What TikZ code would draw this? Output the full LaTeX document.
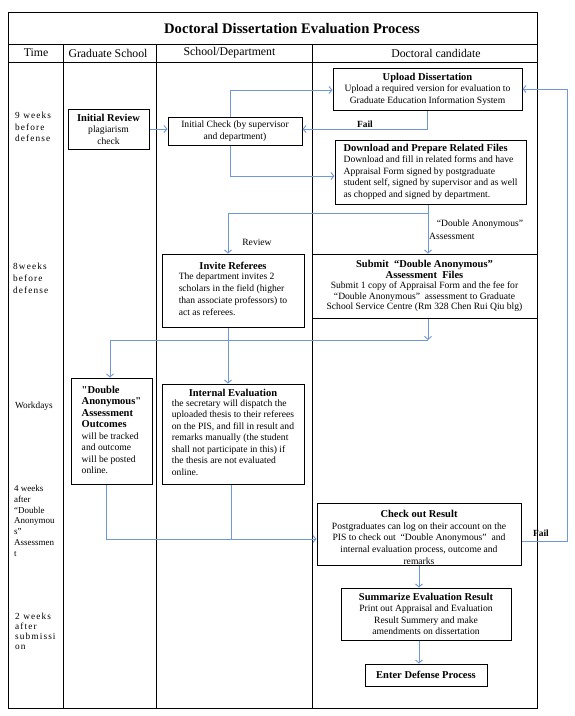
\documentclass[tikz,border=0pt]{standalone}
\usepackage{fontspec}
\setmainfont{Liberation Serif}
\newfontfamily\spacedfont[LetterSpace=12]{Liberation Serif}
\usetikzlibrary{arrows.meta}
\definecolor{lineblue}{RGB}{110,152,218}
\newcommand{\bodyfont}{\fontsize{9.6}{11.5}\selectfont}
\newcommand{\bt}[1]{{\fontsize{10.5}{11.5}\selectfont\bfseries #1}}
\begin{document}
\begin{tikzpicture}[x=1pt,y=-1pt,
  frame/.style={draw=black,line width=1pt},
  box/.style={draw=black,line width=1pt,inner sep=1pt,align=center,font=\bodyfont},
  conn/.style={draw=lineblue,line width=0.9pt},
  arr/.style={conn,-{Straight Barb[length=3pt,width=7pt]}},
  lbl/.style={font=\bodyfont,inner sep=0pt},
  hdr/.style={font=\fontsize{11.8}{13}\selectfont,inner sep=0pt},
  tlbl/.style={anchor=north west,align=left,inner sep=0pt},
]
\useasboundingbox (0,0) rectangle (574,716);
\fill[white] (0,0) rectangle (574,716);
% frame
\draw[frame] (8,12) rectangle (537,708);
\draw[frame] (8,44) -- (537,44);
\draw[frame] (8,62) -- (537,62);
\draw[frame] (63,44) -- (63,708);
\draw[frame] (156,44) -- (156,708);
\draw[frame] (312,44) -- (312,708);
% title and headers
\node[inner sep=0pt,font=\fontsize{14.6}{16}\selectfont\bfseries] (title) at (292,29) {Doctoral Dissertation Evaluation Process};
\node[hdr] (htime) at (36,53) {Time};
\node[hdr] (hgs) at (108,53) {Graduate School};
\node[hdr] (hsd) at (229.5,53) {School/Department};
\node[hdr] (hdc) at (436,53) {Doctoral candidate};
% time labels
\node[tlbl,font=\spacedfont\fontsize{9.3}{11.5}\selectfont] (t1) at (15,112) {9 weeks\\before\\defense};
\node[tlbl,font=\spacedfont\fontsize{9.3}{12}\selectfont] (t2) at (13,263) {8weeks\\before\\defense};
\node[tlbl,font=\fontsize{9.3}{11.5}\selectfont] (t3) at (15,402) {Workdays};
\node[tlbl,font=\fontsize{9}{10.8}\selectfont] (t4) at (14,485) {4 weeks\\after\\“Double\\Anonymou\\s”\\Assessmen\\t};
\node[tlbl,font=\spacedfont\fontsize{9.3}{10}\selectfont] (t5) at (15,613) {2 weeks\\after\\submissi\\on};
% boxes
\node[box,minimum width=189pt,minimum height=42pt] (upload) at (427.5,89)
  {\bt{Upload Dissertation}\\Upload a required version for evaluation to\\Graduate Education Information System};
\node[box,minimum width=81pt,minimum height=40pt] (irev) at (108.5,129)
  {\bt{Initial Review}\\plagiarism\\check};
\node[box,minimum width=134pt,minimum height=28pt] (icheck) at (235,131)
  {Initial Check (by supervisor\\and department)};
\node[box,minimum width=191pt,minimum height=64pt] (download) at (430.5,172)
  {\begin{tabular}{@{}l@{}}\bt{Download and Prepare Related Files}\\Download and fill in related forms and have\\Appraisal Form signed by postgraduate\\student self, signed by supervisor and as well\\as chopped and signed by department.\end{tabular}};
\node[box,minimum width=142pt,minimum height=73pt,font=\fontsize{9.6}{12}\selectfont] (invite) at (233,290.5)
  {\bt{Invite Referees}\\\begin{tabular}{@{}l@{}}The department invites 2\\scholars in the field (higher\\than associate professors) to\\act as referees.\end{tabular}};
\node[box,minimum width=225pt,minimum height=64pt,font=\fontsize{9.6}{10.6}\selectfont] (submit) at (424.5,286)
  {\bt{Submit \ “Double Anonymous”}\\\bt{Assessment \ Files}\\Submit 1 copy of Appraisal Form and the fee for\\“Double Anonymous” \ assessment to Graduate\\School Service Centre (Rm 328 Chen Rui Qiu blg)};
\node[box,minimum width=81pt,minimum height=106pt] (daout) at (111.5,431)
  {\begin{tabular}{@{}l@{}}\bt{\textquotedbl Double}\\\bt{Anonymous\textquotedbl}\\\bt{Assessment}\\\bt{Outcomes}\\will be tracked\\and outcome\\will be posted\\online.\end{tabular}};
\node[box,minimum width=142pt,minimum height=100pt] (inteval) at (233,434)
  {\bt{Internal Evaluation}\\\begin{tabular}{@{}l@{}}the secretary will dispatch the\\uploaded thesis to their referees\\on the PIS, and fill in result and\\remarks manually (the student\\shall not participate in this) if\\the thesis are not evaluated\\online.\end{tabular}};
\node[box,minimum width=204pt,minimum height=62pt] (checkout) at (419,534) {};
\begin{scope}
\clip (checkout.south west) rectangle (checkout.north east);
\node[lbl,align=center,anchor=north,font=\fontsize{9.6}{11.7}\selectfont] (checkouttxt) at (419,510)
  {\bt{Check out Result}\\Postgraduates can log on their account on the\\PIS to check out \ “Double Anonymous” \ and\\internal evaluation process, outcome and\\remarks};
\end{scope}
\node[box,minimum width=170pt,minimum height=52pt] (summ) at (426,614)
  {\bt{Summarize Evaluation Result}\\Print out Appraisal and Evaluation\\Result Summery and make\\amendments on dissertation};
\node[box,minimum width=122pt,minimum height=22pt] (enter) at (426,675)
  {\bt{Enter Defense Process}};
% junction coordinates
\coordinate (j1) at (428,213);
\coordinate (j2) at (428,340);
\coordinate (j3) at (231,539);
\coordinate (rr) at (567,89);
% connectors
\draw[arr] (irev.east) -- (irev.east -| icheck.west);
\draw[arr] ([xshift=-5pt]icheck.north) |- ([yshift=-1pt]upload.west);
\draw[arr] ([xshift=-5pt]icheck.south) |- ([yshift=-4pt]download.west);
\draw[arr] (upload.south) |- ([yshift=2pt]icheck.east);
\draw[arr] (download.south -| j1) -- (j1 |- submit.north);
\draw[arr] (j1) -| ([xshift=-5pt]invite.north);
\draw[arr] (j2 |- submit.south) -- (j2);
\draw[arr] (j2) -| ([xshift=-1.5pt]daout.north);
\draw[arr] ([xshift=-5pt]invite.south) -- ([xshift=-5pt]inteval.north);
\draw[arr] ([xshift=-5.5pt]daout.south) |- ([yshift=-5pt]checkout.west);
\draw[conn] ([xshift=-2pt]inteval.south) -- (j3);
\draw[arr] ([yshift=-7pt]checkout.east) -| (rr) -- (upload.east);
\draw[arr] (checkout.south) -- (checkout.south |- summ.north);
\draw[arr] (checkout.south |- summ.south) -- (checkout.south |- enter.north);
% labels
\node[lbl,font=\fontsize{9.4}{10}\selectfont\bfseries] (fail1) at (365,124) {Fail};
\node[lbl,font=\fontsize{9.4}{10}\selectfont\bfseries] (fail2) at (541,533) {Fail};
\node[lbl] (review) at (257,242) {Review};
\node[lbl] (dalbl) at (480,224) {“Double Anonymous”};
\node[lbl,anchor=west] (aslbl) at (429,236) {Assessment};
\end{tikzpicture}
\end{document}
